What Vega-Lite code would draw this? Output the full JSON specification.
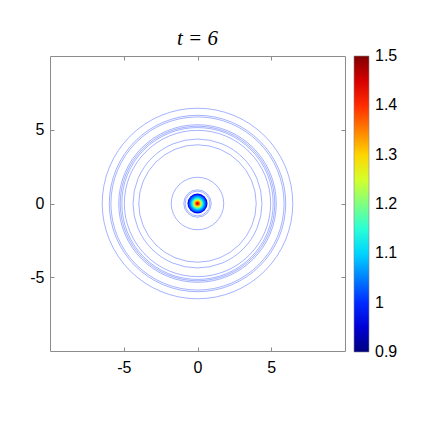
{
  "$schema": "https://vega.github.io/schema/vega-lite/v6.json",
  "width": 295,
  "height": 295,
  "autosize": "none",
  "padding": {"left": 50, "top": 56, "right": 78, "bottom": 72},
  "background": "white",
  "title": {"text": "t = 6", "font": "Liberation Serif", "fontSize": 21, "fontWeight": "normal", "fontStyle": "italic", "offset": 7, "frame": "group", "anchor": "middle", "color": "#000000"},
  "data": {"values": [
    {"kind": "ring", "x": 0, "y": 0, "r": 6.46, "level": 1.0},
    {"kind": "ring", "x": 0, "y": 0, "r": 5.98, "level": 1.0},
    {"kind": "ring", "x": 0, "y": 0, "r": 5.87, "level": 1.0},
    {"kind": "ring", "x": 0, "y": 0, "r": 5.34, "level": 1.0},
    {"kind": "ring", "x": 0, "y": 0, "r": 5.24, "level": 1.0},
    {"kind": "ring", "x": 0, "y": 0, "r": 5.13, "level": 1.0},
    {"kind": "ring", "x": 0, "y": 0, "r": 4.96, "level": 1.0},
    {"kind": "ring", "x": 0, "y": 0, "r": 4.37, "level": 1.0},
    {"kind": "ring", "x": 0, "y": 0, "r": 3.98, "level": 1.0},
    {"kind": "ring", "x": 0, "y": 0, "r": 1.78, "level": 1.0},
    {"kind": "ring", "x": 0, "y": 0, "r": 0.93, "level": 1.0},
    {"kind": "ring", "x": 0, "y": 0, "r": 0.84, "level": 1.0},
    {"kind": "disc", "x": 0, "y": 0, "r": 0.68, "level": 0.98},
    {"kind": "disc", "x": 0, "y": 0, "r": 0.6, "level": 1.02},
    {"kind": "disc", "x": 0, "y": 0, "r": 0.52, "level": 1.06},
    {"kind": "disc", "x": 0, "y": 0, "r": 0.44, "level": 1.1},
    {"kind": "disc", "x": 0, "y": 0, "r": 0.37, "level": 1.15},
    {"kind": "disc", "x": 0, "y": 0, "r": 0.31, "level": 1.2},
    {"kind": "disc", "x": 0, "y": 0, "r": 0.26, "level": 1.25},
    {"kind": "disc", "x": 0, "y": 0, "r": 0.22, "level": 1.3},
    {"kind": "disc", "x": 0, "y": 0, "r": 0.17, "level": 1.35},
    {"kind": "disc", "x": 0, "y": 0, "r": 0.12, "level": 1.4},
    {"kind": "disc", "x": 0, "y": 0, "r": 0.07, "level": 1.45}
  ]},
  "layer": [
    {
      "transform": [{"filter": "datum.kind === 'ring'"}],
      "mark": {"type": "point", "shape": "circle", "filled": false, "stroke": "#002bff", "strokeWidth": 0.6, "strokeOpacity": 0.6, "opacity": 1},
      "encoding": {
        "x": {"field": "x", "type": "quantitative", "scale": {"domain": [-10, 10], "nice": false, "zero": false},
              "axis": {"orient": "bottom", "values": [-5, 0, 5], "title": null, "labelExpr": "'' + datum.value", "offset": -4, "labelPadding": 8}},
        "y": {"field": "y", "type": "quantitative", "scale": {"domain": [-10, 10], "nice": false, "zero": false},
              "axis": {"orient": "left", "values": [-5, 0, 5], "title": null, "labelExpr": "'' + datum.value", "offset": -4, "labelPadding": 6}},
        "size": {"field": "r", "type": "quantitative", "scale": {"type": "pow", "exponent": 2, "domain": [0, 10], "range": [0, 87025]}, "legend": null}
      }
    },
    {
      "transform": [{"filter": "datum.kind === 'disc'"}],
      "mark": {"type": "point", "shape": "circle", "filled": true, "opacity": 1, "strokeWidth": 0},
      "encoding": {
        "x": {"field": "x", "type": "quantitative", "scale": {"domain": [-10, 10], "nice": false, "zero": false},
              "axis": {"orient": "top", "values": [-5, 0, 5], "title": null, "labels": false, "offset": -4}},
        "y": {"field": "y", "type": "quantitative", "scale": {"domain": [-10, 10], "nice": false, "zero": false},
              "axis": {"orient": "right", "values": [-5, 0, 5], "title": null, "labels": false, "offset": -4}},
        "size": {"field": "r", "type": "quantitative", "scale": {"type": "pow", "exponent": 2, "domain": [0, 10], "range": [0, 87025]}, "legend": null},
        "color": {"field": "level", "type": "quantitative",
                  "scale": {"domain": [0.9, 0.975, 1.125, 1.275, 1.425, 1.5], "range": ["#000080", "#0000ff", "#00ffff", "#ffff00", "#ff0000", "#800000"], "interpolate": "rgb"},
                  "legend": {"type": "gradient", "direction": "vertical", "title": null, "values": [0.9, 1, 1.1, 1.2, 1.3, 1.4, 1.5], "format": "~g", "gradientLength": 296, "gradientThickness": 15, "offset": 8, "labelFontSize": 16, "labelFont": "Liberation Sans", "labelColor": "#000000", "labelOffset": 6, "gradientStrokeColor": "#888888", "gradientStrokeWidth": 0.6, "labelOverlap": false,
                             "encoding": {"labels": {"baseline": {"value": "middle"}}}}},
        "order": {"field": "r", "sort": "descending"}
      }
    }
  ],
  "resolve": {"axis": {"x": "independent", "y": "independent"}},
  "config": {
    "view": {"stroke": "#8c8c8c", "strokeWidth": 1},
    "axis": {"domain": false, "grid": false, "ticks": true, "tickSize": 4, "tickColor": "#8c8c8c", "tickWidth": 1, "labelFont": "Liberation Sans", "labelFontSize": 16, "labelColor": "#000000"}
  }
}
